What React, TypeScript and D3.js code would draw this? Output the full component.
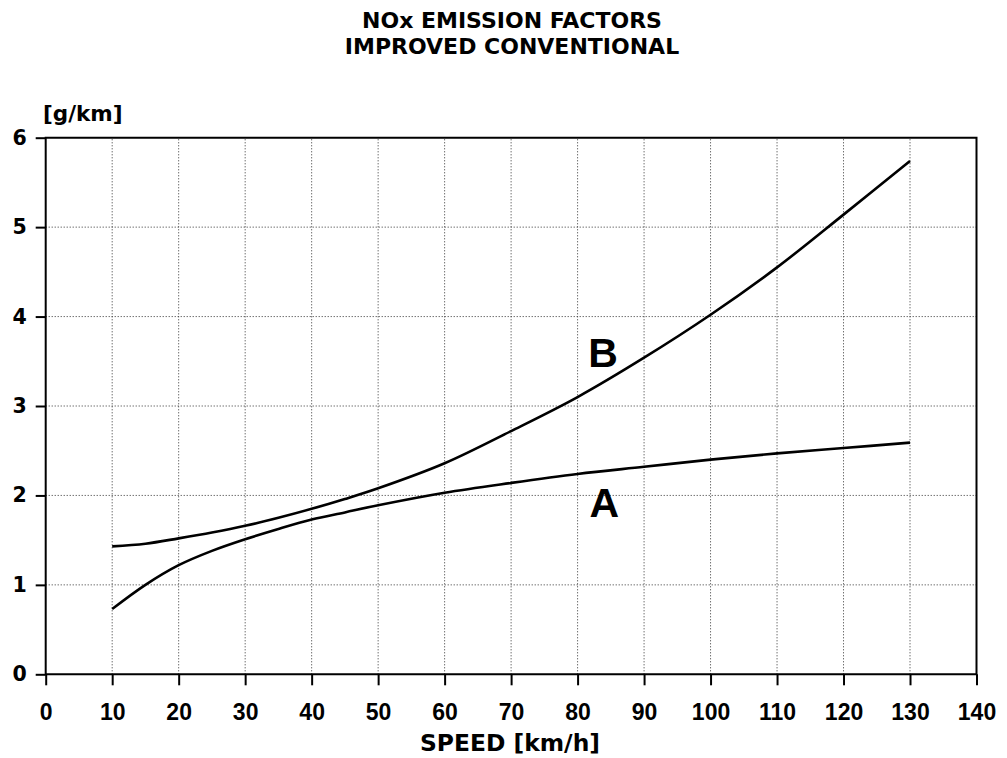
import { useEffect, useRef } from "react";
import * as d3 from "d3";

// speed [km/h] and NOx emission factors [g/km]
const speeds = [10, 15, 20, 25, 30, 35, 40, 45, 50, 60, 70, 80, 90, 100, 110, 120, 130];
const curveA = [0.73, 1.0, 1.22, 1.38, 1.51, 1.625, 1.73, 1.81, 1.89, 2.03, 2.14, 2.24, 2.32, 2.4, 2.47, 2.53, 2.59];
const curveB = [1.43, 1.46, 1.52, 1.585, 1.66, 1.75, 1.85, 1.96, 2.08, 2.36, 2.72, 3.1, 3.54, 4.02, 4.55, 5.14, 5.74];

const xTicks = [0, 10, 20, 30, 40, 50, 60, 70, 80, 90, 100, 110, 120, 130, 140];
const yTicks = [0, 1, 2, 3, 4, 5, 6];

// series label anchors (speed, value at baseline)
const seriesLabels = [
  { name: "A", x: 81.8, y: 1.76 },
  { name: "B", x: 81.6, y: 3.44 },
];

const titleLines = ["NOx EMISSION FACTORS", "IMPROVED CONVENTIONAL"];

const W = 1007;
const H = 758;
const SWISS = "'Liberation Sans', Arial, Helvetica, sans-serif";
const WIDE = "'DejaVu Sans', Verdana, sans-serif";

export default function App() {
  const ref = useRef<SVGSVGElement | null>(null);

  useEffect(() => {
    if (!ref.current) return;
    const svg = d3.select(ref.current);
    svg.selectAll("*").remove();

    const x = d3.scaleLinear().domain([0, 140]).range([45.7, 976.5]);
    const y = d3.scaleLinear().domain([0, 6]).range([674.3, 137.7]);

    // title
    svg
      .append("g")
      .selectAll("text")
      .data(titleLines)
      .join("text")
      .attr("x", 512)
      .attr("y", (_d, i) => 28 + i * 26)
      .attr("text-anchor", "middle")
      .attr("font-family", WIDE)
      .attr("font-weight", "bold")
      .attr("font-size", 22)
      .text((d) => d);

    // dotted grid
    const grid = svg.append("g").attr("stroke", "#000").attr("stroke-width", 1).attr("stroke-dasharray", "1,2").attr("opacity", 0.8);
    grid
      .selectAll("line.v")
      .data(xTicks.filter((t) => t > 0 && t < 140))
      .join("line")
      .attr("class", "v")
      .attr("x1", (d) => x(d))
      .attr("x2", (d) => x(d))
      .attr("y1", y(0))
      .attr("y2", y(6));
    grid
      .selectAll("line.h")
      .data(yTicks.filter((t) => t > 0 && t < 6))
      .join("line")
      .attr("class", "h")
      .attr("x1", x(0))
      .attr("x2", x(140))
      .attr("y1", (d) => y(d))
      .attr("y2", (d) => y(d));

    // frame
    svg
      .append("path")
      .attr("d", `M${x(0)},${y(0)}V${y(6)}H${x(140)}V${y(0)}Z`)
      .attr("fill", "none")
      .attr("stroke", "#000")
      .attr("stroke-width", 2);

    // x axis
    const xAxis = svg
      .append("g")
      .attr("transform", `translate(0,${y(0)})`)
      .call(d3.axisBottom(x).tickValues(xTicks).tickSize(11).tickPadding(18).tickFormat(d3.format("d")));
    xAxis.select(".domain").remove();
    xAxis.selectAll("line").attr("stroke", "#000").attr("stroke-width", 2);
    xAxis.selectAll("text").attr("font-family", SWISS).attr("font-weight", "bold").attr("font-size", 23).attr("fill", "#000");

    // y axis
    const yAxis = svg
      .append("g")
      .attr("transform", `translate(${x(0)},0)`)
      .call(d3.axisLeft(y).tickValues(yTicks).tickSize(10).tickPadding(9).tickFormat(d3.format("d")));
    yAxis.select(".domain").remove();
    yAxis.selectAll("line").attr("stroke", "#000").attr("stroke-width", 2);
    yAxis.selectAll("text").attr("font-family", WIDE).attr("font-weight", "bold").attr("font-size", 20.5).attr("fill", "#000");

    // axis titles
    svg
      .append("text")
      .attr("x", 43)
      .attr("y", 121)
      .attr("font-family", WIDE)
      .attr("font-weight", "bold")
      .attr("font-size", 21.5)
      .text("[g/km]");
    svg
      .append("text")
      .attr("x", 510)
      .attr("y", 751)
      .attr("text-anchor", "middle")
      .attr("font-family", WIDE)
      .attr("font-weight", "bold")
      .attr("font-size", 23.4)
      .text("SPEED [km/h]");

    // curves
    const line = d3
      .line<number>()
      .x((_d, i) => x(speeds[i]))
      .y((d) => y(d))
      .curve(d3.curveCatmullRom.alpha(0.5));
    [curveA, curveB].forEach((vals) => {
      svg
        .append("path")
        .attr("d", line(vals))
        .attr("fill", "none")
        .attr("stroke", "#000")
        .attr("stroke-width", 2.6)
        .attr("stroke-linejoin", "round");
    });

    svg
      .append("g")
      .selectAll("text")
      .data(seriesLabels)
      .join("text")
      .attr("x", (d) => x(d.x))
      .attr("y", (d) => y(d.y))
      .attr("font-family", SWISS)
      .attr("font-weight", "bold")
      .attr("font-size", 41)
      .text((d) => d.name);
  }, []);

  return (
    <svg
      ref={ref}
      width={W}
      height={H}
      viewBox={`0 0 ${W} ${H}`}
      style={{ position: "absolute", left: 0, top: 0, display: "block", background: "#fff" }}
    />
  );
}
